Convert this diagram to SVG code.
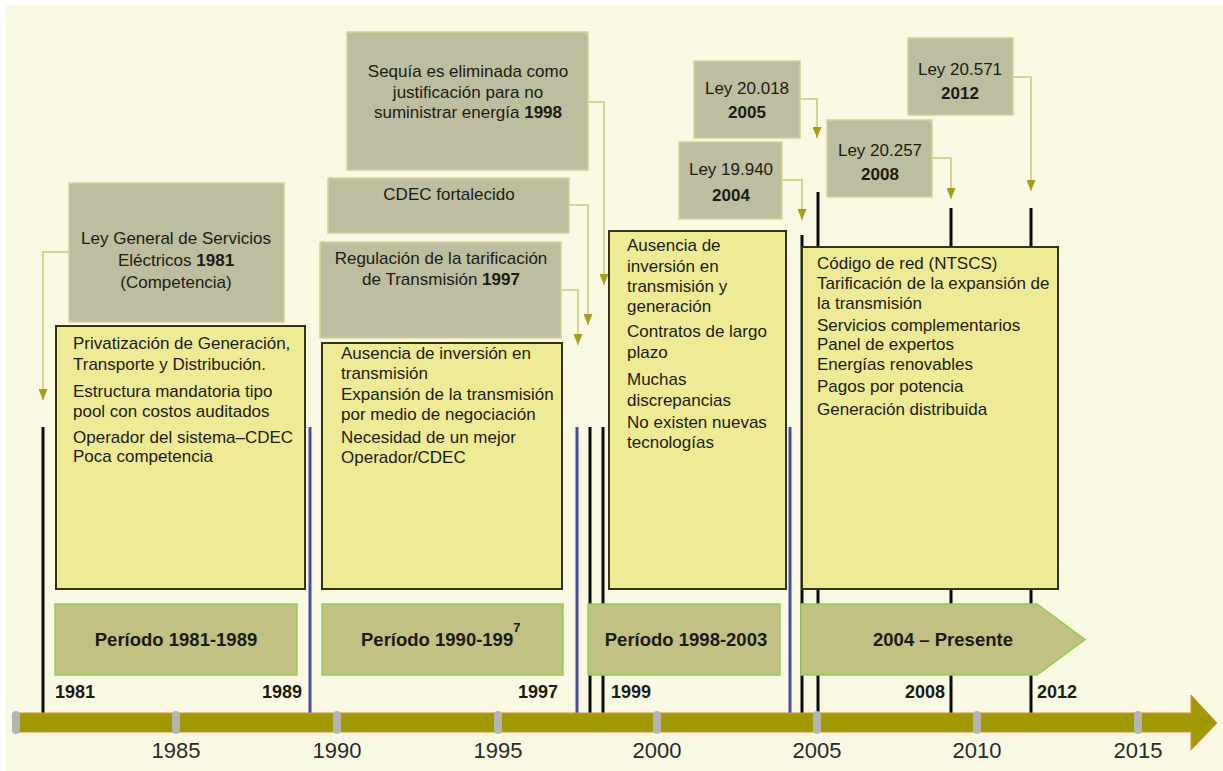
<svg xmlns="http://www.w3.org/2000/svg" width="1223" height="771" viewBox="0 0 1223 771">
  <style>
    text { font-family: "Liberation Sans", Arial, sans-serif; fill: #1c1c14; }
    .law { fill: #bdbd9f; stroke: #d6d29a; stroke-width: 1.5; }
    .law-t { font-size: 17px; text-anchor: middle; }
    .note { fill: #eeea96; stroke: #34340e; stroke-width: 2; }
    .note-t { font-size: 17px; }
    .per { fill: #c1c184; stroke: #92cc55; stroke-width: 1.5; }
    .per-t { font-size: 18.5px; font-weight: bold; text-anchor: middle; }
    .per-s { font-size: 18.5px; font-weight: bold; text-anchor: start; }
    .yr { font-size: 18px; font-weight: bold; }
    .axis-t { font-size: 22px; text-anchor: middle; fill: #2a2a2a; }
    .b { font-weight: bold; }
    .mark-k { stroke: #0c0c0c; stroke-width: 3; }
    .mark-b { stroke: #4a4aa8; stroke-width: 3; }
    .tick { fill: #b4b4b4; }
    .conn { fill: none; stroke: #cbc67c; stroke-width: 1.5; }
  </style>
  <defs>
    <marker id="arr" viewBox="0 0 11 9" refX="11" refY="4.5" markerWidth="11" markerHeight="9" markerUnits="userSpaceOnUse" orient="auto">
      <path d="M0,0 L11,4.5 L0,9 Z" fill="#a39e1e"/>
    </marker>
  </defs>

  <!-- page background -->
  <rect x="6" y="5" width="1217" height="766" fill="#f9f9e3"/>

  <!-- year markers on the time axis -->
  <g id="markers">
    <line class="mark-k" x1="43" y1="427" x2="43" y2="714"/>
    <line class="mark-b" x1="310" y1="427" x2="310" y2="714"/>
    <line class="mark-b" x1="577" y1="427" x2="577" y2="714"/>
    <line class="mark-k" x1="590" y1="427" x2="590" y2="714"/>
    <line class="mark-k" x1="603" y1="427" x2="603" y2="714"/>
    <line class="mark-b" x1="790" y1="427" x2="790" y2="714"/>
    <line class="mark-k" x1="802" y1="235" x2="802" y2="714"/>
    <line class="mark-k" x1="818" y1="192" x2="818" y2="714"/>
    <line class="mark-k" x1="951" y1="208" x2="951" y2="714"/>
    <line class="mark-k" x1="1031" y1="208" x2="1031" y2="714"/>
  </g>

  <!-- time axis -->
  <g id="axis">
    <path d="M16,713 H1191 V695 L1217,723 L1191,750 V732 H16 Z" fill="#a09a00" stroke="#e4864a" stroke-width="1"/>
    <rect class="tick" x="12" y="711" width="8" height="23" rx="4"/>
    <rect class="tick" x="172" y="711" width="8" height="23" rx="4"/>
    <rect class="tick" x="333" y="711" width="8" height="23" rx="4"/>
    <rect class="tick" x="494" y="711" width="8" height="23" rx="4"/>
    <rect class="tick" x="653" y="711" width="8" height="23" rx="4"/>
    <rect class="tick" x="813" y="711" width="8" height="23" rx="4"/>
    <rect class="tick" x="973" y="711" width="8" height="23" rx="4"/>
    <rect class="tick" x="1134" y="711" width="8" height="23" rx="4"/>
    <text class="axis-t" x="176" y="758">1985</text>
    <text class="axis-t" x="337" y="758">1990</text>
    <text class="axis-t" x="498" y="758">1995</text>
    <text class="axis-t" x="657" y="758">2000</text>
    <text class="axis-t" x="817" y="758">2005</text>
    <text class="axis-t" x="977" y="758">2010</text>
    <text class="axis-t" x="1138" y="758">2015</text>
    <text class="yr" x="55" y="698">1981</text>
    <text class="yr" x="302" y="698" text-anchor="end">1989</text>
    <text class="yr" x="558" y="698" text-anchor="end">1997</text>
    <text class="yr" x="611" y="698">1999</text>
    <text class="yr" x="945" y="698" text-anchor="end">2008</text>
    <text class="yr" x="1037" y="698">2012</text>
  </g>

  <!-- connectors from each law to its year -->
  <g id="connectors">
    <path class="conn" d="M69,252 H43 V400" marker-end="url(#arr)"/>
    <path class="conn" d="M588,102 H604 V285" marker-end="url(#arr)"/>
    <path class="conn" d="M569,205 H588 V325" marker-end="url(#arr)"/>
    <path class="conn" d="M561,290 H578 V345" marker-end="url(#arr)"/>
    <path class="conn" d="M800,99 H817 V138" marker-end="url(#arr)"/>
    <path class="conn" d="M782,180 H802 V220" marker-end="url(#arr)"/>
    <path class="conn" d="M932,158 H951 V199" marker-end="url(#arr)"/>
    <path class="conn" d="M1013,77 H1031 V191" marker-end="url(#arr)"/>
  </g>

  <!-- laws -->
  <g id="ley-general-1981">
    <rect class="law" x="69" y="183" width="215" height="139"/>
    <text class="law-t" x="176" y="244">Ley General de Servicios</text>
    <text class="law-t" x="176" y="266">Eléctricos <tspan class="b">1981</tspan></text>
    <text class="law-t" x="176" y="288">(Competencia)</text>
  </g>
  <g id="sequia-1998">
    <rect class="law" x="347" y="32" width="241" height="138"/>
    <text class="law-t" x="468" y="77">Sequía es eliminada como</text>
    <text class="law-t" x="468" y="98">justificación para no</text>
    <text class="law-t" x="468" y="118">suministrar energía <tspan class="b">1998</tspan></text>
  </g>
  <g id="cdec-fortalecido">
    <rect class="law" x="328" y="178" width="241" height="55"/>
    <text class="law-t" x="449" y="200">CDEC fortalecido</text>
  </g>
  <g id="regulacion-1997">
    <rect class="law" x="320" y="242" width="241" height="96"/>
    <text class="law-t" x="441" y="264">Regulación de la tarificación</text>
    <text class="law-t" x="441" y="285">de Transmisión <tspan class="b">1997</tspan></text>
  </g>
  <g id="ley-20018">
    <rect class="law" x="694" y="61" width="106" height="77"/>
    <text class="law-t" x="747" y="94">Ley 20.018</text>
    <text class="law-t b" x="747" y="118">2005</text>
  </g>
  <g id="ley-19940">
    <rect class="law" x="679" y="142" width="103" height="77"/>
    <text class="law-t" x="731" y="175">Ley 19.940</text>
    <text class="law-t b" x="731" y="201">2004</text>
  </g>
  <g id="ley-20257">
    <rect class="law" x="827" y="120" width="105" height="77"/>
    <text class="law-t" x="880" y="156">Ley 20.257</text>
    <text class="law-t b" x="880" y="180">2008</text>
  </g>
  <g id="ley-20571">
    <rect class="law" x="908" y="38" width="105" height="77"/>
    <text class="law-t" x="960" y="75">Ley 20.571</text>
    <text class="law-t b" x="960" y="99">2012</text>
  </g>

  <!-- period descriptions -->
  <g id="notas-1981-1989">
    <rect class="note" x="56" y="326" width="249" height="263"/>
    <text class="note-t" x="73" y="349">Privatización de Generación,</text>
    <text class="note-t" x="73" y="370">Transporte y Distribución.</text>
    <text class="note-t" x="73" y="397">Estructura mandatoria tipo</text>
    <text class="note-t" x="73" y="417">pool con costos auditados</text>
    <text class="note-t" x="73" y="443">Operador del sistema–CDEC</text>
    <text class="note-t" x="73" y="462">Poca competencia</text>
  </g>
  <g id="notas-1990-1997">
    <rect class="note" x="322" y="343" width="240" height="246"/>
    <text class="note-t" x="341" y="359">Ausencia de inversión en</text>
    <text class="note-t" x="341" y="379">transmisión</text>
    <text class="note-t" x="341" y="400">Expansión de la transmisión</text>
    <text class="note-t" x="341" y="420">por medio de negociación</text>
    <text class="note-t" x="341" y="443">Necesidad de un mejor</text>
    <text class="note-t" x="341" y="463">Operador/CDEC</text>
  </g>
  <g id="notas-1998-2003">
    <rect class="note" x="609" y="231" width="177" height="358"/>
    <text class="note-t" x="627" y="251">Ausencia de</text>
    <text class="note-t" x="627" y="272">inversión en</text>
    <text class="note-t" x="627" y="292">transmisión y</text>
    <text class="note-t" x="627" y="312">generación</text>
    <text class="note-t" x="627" y="337">Contratos de largo</text>
    <text class="note-t" x="627" y="358">plazo</text>
    <text class="note-t" x="627" y="385">Muchas</text>
    <text class="note-t" x="627" y="406">discrepancias</text>
    <text class="note-t" x="627" y="428">No existen nuevas</text>
    <text class="note-t" x="627" y="448">tecnologías</text>
  </g>
  <g id="notas-2004-presente">
    <rect class="note" x="802" y="247" width="256" height="342"/>
    <text class="note-t" x="817" y="269">Código de red (NTSCS)</text>
    <text class="note-t" x="817" y="289">Tarificación de la expansión de</text>
    <text class="note-t" x="817" y="309">la transmisión</text>
    <text class="note-t" x="817" y="331">Servicios complementarios</text>
    <text class="note-t" x="817" y="350">Panel de expertos</text>
    <text class="note-t" x="817" y="370">Energías renovables</text>
    <text class="note-t" x="817" y="392">Pagos por potencia</text>
    <text class="note-t" x="817" y="415">Generación distribuida</text>
  </g>

  <!-- period labels -->
  <g id="periodo-1981-1989">
    <rect class="per" x="55" y="604" width="242" height="71"/>
    <text class="per-t" x="176" y="646">Período 1981-1989</text>
  </g>
  <g id="periodo-1990-1997">
    <rect class="per" x="322" y="604" width="241" height="71"/>
    <text class="per-s" x="361" y="646">Período 1990-199<tspan dy="-14" font-size="13">7</tspan></text>
  </g>
  <g id="periodo-1998-2003">
    <rect class="per" x="588" y="604" width="192" height="71"/>
    <text class="per-t" x="686" y="646">Período 1998-2003</text>
  </g>
  <g id="periodo-2004-presente">
    <path class="per" d="M801,604 H1037 L1085,639.5 L1037,675 H801 Z"/>
    <text class="per-t" x="943" y="646">2004 – Presente</text>
  </g>
</svg>
